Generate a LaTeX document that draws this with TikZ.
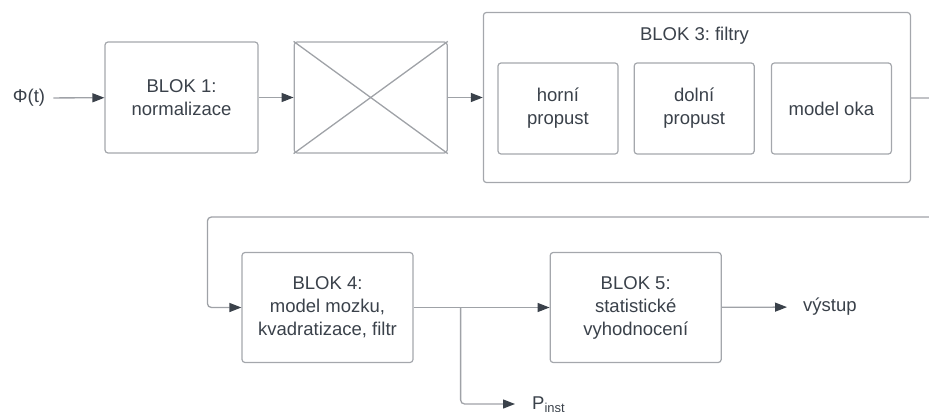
\documentclass[tikz,border=0pt]{standalone}
\usepackage{fontspec}
\setmainfont{Liberation Sans}
\frenchspacing
\usetikzlibrary{positioning, arrows.meta}
\definecolor{linka}{HTML}{9FA2A7}
\definecolor{ramecek}{HTML}{A4A7AC}
\definecolor{pismo}{HTML}{3A414A}

\begin{document}
\begin{tikzpicture}[x=1pt, y=-1pt, node distance=35pt,
        font=\fontsize{18.5}{23}\selectfont, text=pismo,
        blok/.style={shape=rectangle, draw=ramecek, line width=1.2pt, rounded corners=3pt,
                     align=center, minimum width=153pt, minimum height=111pt, inner sep=0pt},
        filtr/.style={blok, minimum width=120pt, minimum height=91pt},
        popis/.style={inner sep=0pt},
        vedeni/.style={draw=linka, line width=1.3pt},
        sipka/.style={vedeni, -{Triangle[length=12pt, width=9pt, color=pismo]}}]
    \useasboundingbox (0,0) rectangle (929,412);
    % horni rada
    \node[popis] (phi) at (29,98) {Φ(t)};
    \node[blok] (b1) at (181.5,97.5) {BLOK 1:\\normalizace};
    \node[blok, right=of b1] (kriz) {};
    \draw[vedeni] (kriz.north west) -- (kriz.south east) (kriz.south west) -- (kriz.north east);
    \node[blok, right=of kriz, minimum width=427pt, minimum height=170pt] (b3) {};
    \node (t3) at (694.5,36) {BLOK 3: filtry};
    \node[filtr] (hp) at (558,108.5) {horní\\propust};
    \node[filtr, right=15pt of hp] (dp) {dolní\\propust};
    \node[filtr, right=16pt of dp] (oko) {model oka};
    % dolni rada
    \node[blok, minimum width=171pt, minimum height=110pt] (b4) at (327.5,307.5) {BLOK 4:\\model mozku,\\kvadratizace, filtr};
    \node[blok, minimum width=171pt, minimum height=110pt, right=136pt of b4] (b5) {BLOK 5:\\statistické\\vyhodnocení};
    \node[popis, anchor=west] (vys) at (803,307) {výstup};
    \node[popis, anchor=base west] (pinst) at (532,409) {P\textsubscript{inst}};
    \coordinate (o3) at (929,98);
    \coordinate (z4) at (929,217);
    % spoje
    \path[sipka] (phi) edge[shorten <=8pt] (b1)
                 (b1) edge (kriz)
                 (kriz) edge (b3);
    \draw[vedeni] (b3) -- (o3);
    \draw[sipka, rounded corners=4pt] (z4) -| ([xshift=-34pt]b4.west) -- (b4.west);
    \draw[sipka] (b4) -- (b5);
    \draw[sipka, rounded corners=4pt, shorten >=17pt] ([xshift=47pt]b4.east) |- ([yshift=5pt]pinst.base west);
    \draw[sipka, shorten >=16pt] (b5) -- (vys);
\end{tikzpicture}
\end{document}
